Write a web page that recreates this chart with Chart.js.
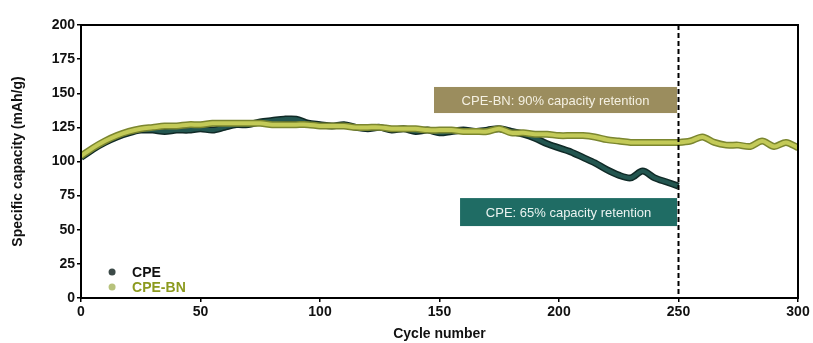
<!DOCTYPE html>
<html>
<head>
<meta charset="utf-8">
<script src="https://cdn.jsdelivr.net/npm/chart.js@4"></script>
<style>
  html, body { margin: 0; padding: 0; background: #fff; }
  #wrap { width: 813px; height: 343px; }
</style>
</head>
<body>
<div id="wrap"><canvas id="stage" width="813" height="343"></canvas></div>
<script>
// cycle numbers (every 5 cycles)
const cycles = [0,5,10,15,20,25,30,35,40,45,50,55,60,65,70,75,80,85,90,95,100,
  105,110,115,120,125,130,135,140,145,150,155,160,165,170,175,180,185,190,195,200,
  205,210,215,220,225,230,235,240,245,250,255,260,265,270,275,280,285,290,295,300];

// specific capacity, mAh/g
const cpe = [103,109,114,118,121,123,123,122,123,123,124,123,125,127,127,129,130,131,131,128,127,
  126,127,125,124,125,123,124,122,123,121,122,123,122,123,124,122,120,117,113,110,
  107,103,99,94,90,88,93,88,85,82];
const cpeBN = [104,110,115,119,122,124,125,126,126,127,127,128,128,128,128,128,127,127,127,127,126,
  126,126,125,125,125,124,124,124,123,123,123,122,122,122,124,121,121,120,120,119,
  119,119,118,116,115,114,114,114,114,114,115,118,114,112,112,111,115,111,114,110];

const xTicks = [0,50,100,150,200,250,300];
const yTicks = [0,25,50,75,100,125,150,175,200];

function pts(vals) {
  return vals.map((v, i) => ({ x: cycles[i], y: v }));
}

const font = "'Liberation Sans', Arial, sans-serif";

const framePlugin = {
  id: 'frame',
  afterDatasetsDraw(chart) {
    const { ctx, chartArea: a, scales } = chart;
    const xs = scales.x, ys = scales.y;
    ctx.save();
    // annotation boxes
    const boxes = [
      { x0: 147.7, x1: 249.4, y0: 135.5, y1: 154.6, bg: '#9b8d5e', fg: '#f4f0e2', text: 'CPE-BN: 90% capacity retention' },
      { x0: 158.6, x1: 249.4, y0: 52.7, y1: 73.2, bg: '#1f6c64', fg: '#eaf3f1', text: 'CPE: 65% capacity retention' }
    ];
    boxes.forEach(b => {
      const l = xs.getPixelForValue(b.x0), r = xs.getPixelForValue(b.x1);
      const t = ys.getPixelForValue(b.y1), bt = ys.getPixelForValue(b.y0);
      ctx.fillStyle = b.bg;
      ctx.fillRect(l, t, r - l, bt - t);
      ctx.fillStyle = b.fg;
      ctx.font = '13px ' + font;
      ctx.textAlign = 'center';
      ctx.textBaseline = 'middle';
      ctx.fillText(b.text, (l + r) / 2, (t + bt) / 2 + 1);
    });
    // dashed line at cycle 250
    const dx = xs.getPixelForValue(250);
    ctx.strokeStyle = '#000';
    ctx.lineWidth = 2;
    ctx.setLineDash([5, 3]);
    ctx.beginPath();
    ctx.moveTo(dx, a.top);
    ctx.lineTo(dx, a.bottom);
    ctx.stroke();
    ctx.setLineDash([]);
    // frame
    ctx.lineWidth = 2;
    ctx.strokeRect(a.left, a.top, a.right - a.left, a.bottom - a.top);
    // legend inside plot, CPE first
    const items = chart.data.datasets.filter(d => d.legendColor)
      .sort((p, q) => p.legendRank - q.legendRank);
    items.forEach((d, i) => {
      const y = ys.getPixelForValue(19) + i * 15;
      const x = xs.getPixelForValue(13);
      ctx.beginPath();
      ctx.arc(x, y, 3.5, 0, Math.PI * 2);
      ctx.fillStyle = d.legendColor;
      ctx.fill();
      ctx.font = 'bold 14px ' + font;
      ctx.textAlign = 'left';
      ctx.textBaseline = 'middle';
      ctx.fillStyle = d.legendText;
      ctx.fillText(d.label, x + 20, y + 1);
    });
    ctx.restore();
  }
};

new Chart(document.getElementById('stage'), {
  type: 'line',
  data: {
    datasets: [{
      label: 'CPE-BN',
      data: pts(cpeBN),
      borderColor: '#c3ca58',
      borderWidth: 4,
      pointRadius: 0,
      tension: 0.3,
      order: 0,
      legendRank: 2,
      legendColor: '#b7c27c',
      legendText: '#8c9a1e'
    }, {
      label: 'CPE-BN outline',
      data: pts(cpeBN),
      borderColor: '#7b862f',
      borderWidth: 7,
      pointRadius: 0,
      tension: 0.3,
      order: 1
    }, {
      label: 'CPE',
      data: pts(cpe),
      borderColor: '#235650',
      borderWidth: 4,
      pointRadius: 0,
      tension: 0.3,
      order: 2,
      legendRank: 1,
      legendColor: '#3c4a48',
      legendText: '#111'
    }, {
      label: 'CPE outline',
      data: pts(cpe),
      borderColor: '#102a27',
      borderWidth: 7,
      pointRadius: 0,
      tension: 0.3,
      order: 3
    }]
  },
  options: {
    responsive: false,
    animation: false,
    layout: { padding: { top: 25, right: 15, left: 0, bottom: 0 } },
    plugins: { legend: { display: false }, tooltip: { enabled: false } },
    scales: {
      x: {
        type: 'linear',
        min: 0, max: 300,
        afterBuildTicks: s => { s.ticks = xTicks.map(v => ({ value: v })); },
        afterFit: s => { s.height = 45; },
        border: { display: false },
        grid: { drawOnChartArea: false, color: '#000', tickLength: 4, lineWidth: 1.5 },
        ticks: { color: '#111', font: { family: font, size: 14, weight: 'bold' }, padding: 2, maxRotation: 0 },
        title: { display: true, text: 'Cycle number', color: '#111', font: { family: font, size: 14, weight: 'bold' }, padding: { top: 0, bottom: 0 } }
      },
      y: {
        min: 0, max: 200,
        afterBuildTicks: s => { s.ticks = yTicks.map(v => ({ value: v })); },
        afterFit: s => { s.width = 81; },
        border: { display: false },
        grid: { drawOnChartArea: false, color: '#000', tickLength: 4, lineWidth: 1.5 },
        ticks: { color: '#111', font: { family: font, size: 14, weight: 'bold' }, padding: 2 },
        title: { display: true, text: 'Specific capacity (mAh/g)', color: '#111', font: { family: font, size: 14, weight: 'bold' }, padding: { top: 10, bottom: 4 } }
      }
    }
  },
  plugins: [framePlugin]
});
</script>
</body>
</html>
